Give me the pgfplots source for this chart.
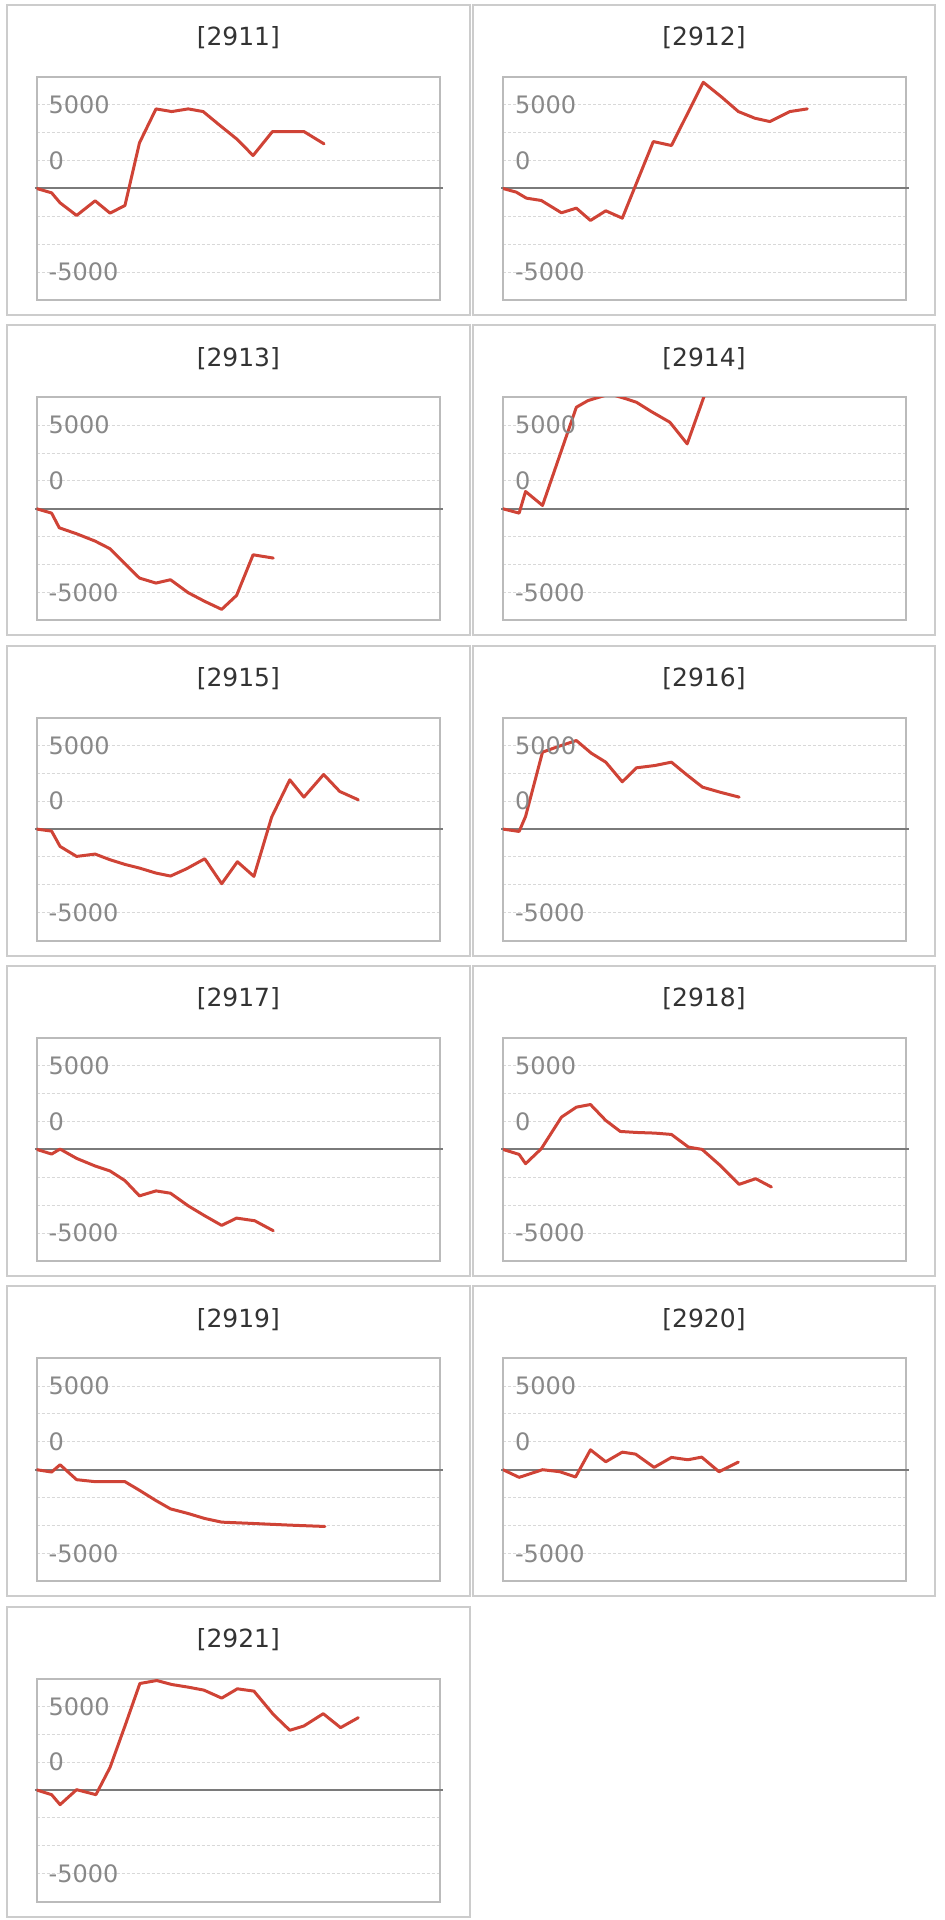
\documentclass[border=0pt]{standalone}
\usepackage{pgfplots}
\pgfplotsset{compat=1.18}
\usepackage{pgfplotstable}
\usepackage{fontspec}
\setmainfont{DejaVu Sans}
\definecolor{boxgray}{HTML}{CCCCCC}
\definecolor{plotgray}{HTML}{BBBBBB}
\definecolor{gridgray}{HTML}{D8D8D8}
\definecolor{zerogray}{HTML}{7A7A7A}
\definecolor{lblgray}{HTML}{888888}
\definecolor{titlegray}{HTML}{333333}
\definecolor{linered}{HTML}{CF4336}

\pgfplotstableread{
x y
0 0
3.7 -388
5.8 -1284
9.9 -2419
14.5 -1105
18.2 -2210
21.9 -1523
25.5 4092
29.6 7139
33.5 6900
37.6 7139
41.3 6900
45.5 5645
49.6 4450
53.7 2957
58.5 5108
62.4 5108
66.3 5108
71.3 4002
}\dA
\pgfplotstableread{
x y
0 0
3.3 -329
5.8 -866
9.5 -1075
14.5 -2180
18.2 -1762
21.7 -2867
25.5 -2001
29.6 -2658
37.3 4211
41.8 3853
49.7 9528
54.3 8184
58.4 6900
62.5 6302
66.2 6004
71.2 6900
75.5 7139
}\dB
\pgfplotstableread{
x y
0 0
3.7 -388
5.6 -1703
9.9 -2240
14.5 -2897
18.2 -3584
21.9 -4928
25.5 -6213
29.6 -6661
33.2 -6362
37.6 -7527
41.7 -8303
45.9 -9020
49.6 -7766
53.7 -4122
58.7 -4421
}\dC
\pgfplotstableread{
x y
0 0
4.0 -388
5.6 1553
9.8 299
18.2 9110
21.1 9707
26.5 10300
30.6 9857
33.1 9558
36.8 8722
41.4 7766
45.7 5824
50.3 10500
}\dD
\pgfplotstableread{
x y
0 0
3.7 -179
5.8 -1553
9.9 -2449
14.5 -2240
18.2 -2748
21.9 -3166
25.5 -3495
29.6 -3943
33.2 -4211
37.2 -3554
41.7 -2658
45.9 -4898
49.8 -2927
53.9 -4241
58.3 1075
62.8 4421
66.3 2867
71.2 4898
75.2 3375
79.8 2628
}\dE
\pgfplotstableread{
x y
0 0
4.0 -209
5.6 1135
9.8 6900
13.7 7408
18.2 7945
21.9 6810
25.5 6004
29.6 4242
33.1 5496
37.7 5705
41.8 6004
45.5 4898
49.5 3764
53.8 3316
58.6 2867
}\dF
\pgfplotstableread{
x y
0 0
3.7 -417
5.8 30
9.9 -804
14.5 -1488
18.2 -1935
21.9 -2798
25.5 -4167
29.6 -3720
33.2 -3929
37.6 -5060
41.7 -5952
45.9 -6815
49.6 -6161
54.1 -6399
58.7 -7292
}\dG
\pgfplotstableread{
x y
0 0
4.0 -448
5.6 -1283
9.5 60
14.5 2894
18.2 3789
21.7 4027
25.5 2595
29.1 1611
33.1 1521
37.7 1462
41.8 1343
46.0 209
49.4 0
53.6 -1343
58.6 -3133
62.7 -2625
66.6 -3372
}\dH
\pgfplotstableread{
x y
0 0
3.7 -208
5.8 446
9.9 -893
14.5 -1071
18.2 -1071
21.9 -1071
25.5 -1845
29.6 -2768
33.2 -3512
37.6 -3929
41.7 -4375
45.9 -4702
53.7 -4821
62.8 -4970
71.5 -5089
}\dI
\pgfplotstableread{
x y
0 0
4.0 -685
9.8 0
14.1 -179
18.0 -655
21.7 1786
25.5 714
29.6 1577
32.9 1399
37.5 208
41.8 1101
45.9 893
49.3 1131
53.6 -179
58.4 685
}\dJ
\pgfplotstableread{
x y
0 0
3.7 -417
5.8 -1310
9.9 30
14.7 -417
18.2 2024
21.9 5744
25.6 9554
29.8 9821
33.5 9464
37.6 9226
41.5 8958
45.9 8244
49.8 9077
53.9 8869
58.7 6786
62.8 5357
66.3 5744
71.1 6845
75.4 5595
79.8 6488
}\dK

\pgfplotsset{
  chart/.style={
    scale only axis,
    width=201.5pt, height=111.5pt,
    anchor=north west,
    xmin=0, xmax=100, ymin=-10000, ymax=10000,
    xtick=\empty,
    ytick={-7500,-5000,-2500,2500,5000,7500},
    yticklabels=\empty,
    scaled y ticks=false,
    scaled x ticks=false,
    major tick length=0pt,
    ymajorgrids,
    grid style={draw=gridgray, line width=0.5pt, dash pattern=on 1.5pt off 1pt},
    axis line style={draw=plotgray, line width=1pt},
    clip mode=individual,
  },
  series/.style={draw=linered, line width=1.5pt, line join=round, line cap=round, no markers},
}
\tikzset{
  panelbox/.style={draw=boxgray, line width=1pt},
  ttl/.style={font=\fontsize{12.5}{14}\selectfont, text=titlegray},
  lbl/.style={font=\fontsize{12}{14}\selectfont, text=lblgray, anchor=west, inner sep=0pt},
}

% #1 left (px), #2 top (px), #3 width (px), #4 title, #5 table
\newcommand{\panel}[5]{%
  \draw[panelbox] ({#1*0.5pt},{-#2*0.5pt}) rectangle ({(#1+#3)*0.5pt},{-(#2+310)*0.5pt});
  \node[ttl] at ({(#1+#3/2)*0.5pt},{-(#2+33)*0.5pt}) {#4};
  \begin{axis}[chart, at={({(#1+30)*0.5pt},{-(#2+72)*0.5pt})}]
    \draw[draw=zerogray, line width=1pt] ([xshift=-1pt]rel axis cs:0,0.5) -- ([xshift=1.5pt]rel axis cs:1,0.5);
    \addplot[series] table {#5};
    \node[lbl] at ([xshift=5.8pt]rel axis cs:0,0.875) {5000};
    \node[lbl] at ([xshift=5.8pt]rel axis cs:0,0.625) {0};
    \node[lbl] at ([xshift=5.8pt]rel axis cs:0,0.125) {-5000};
  \end{axis}
}

\begin{document}
\begin{tikzpicture}
  \path[use as bounding box] (0,0) rectangle (472pt,-960pt);
  \panel{6.7}{5}{463.3}{[2911]}{\dA}
  \panel{473}{5}{462}{[2912]}{\dB}
  \panel{6.7}{325.3}{463.3}{[2913]}{\dC}
  \panel{473}{325.3}{462}{[2914]}{\dD}
  \panel{6.7}{645.6}{463.3}{[2915]}{\dE}
  \panel{473}{645.6}{462}{[2916]}{\dF}
  \panel{6.7}{965.9}{463.3}{[2917]}{\dG}
  \panel{473}{965.9}{462}{[2918]}{\dH}
  \panel{6.7}{1286.2}{463.3}{[2919]}{\dI}
  \panel{473}{1286.2}{462}{[2920]}{\dJ}
  \panel{6.7}{1606.5}{463.3}{[2921]}{\dK}
\end{tikzpicture}
\end{document}
